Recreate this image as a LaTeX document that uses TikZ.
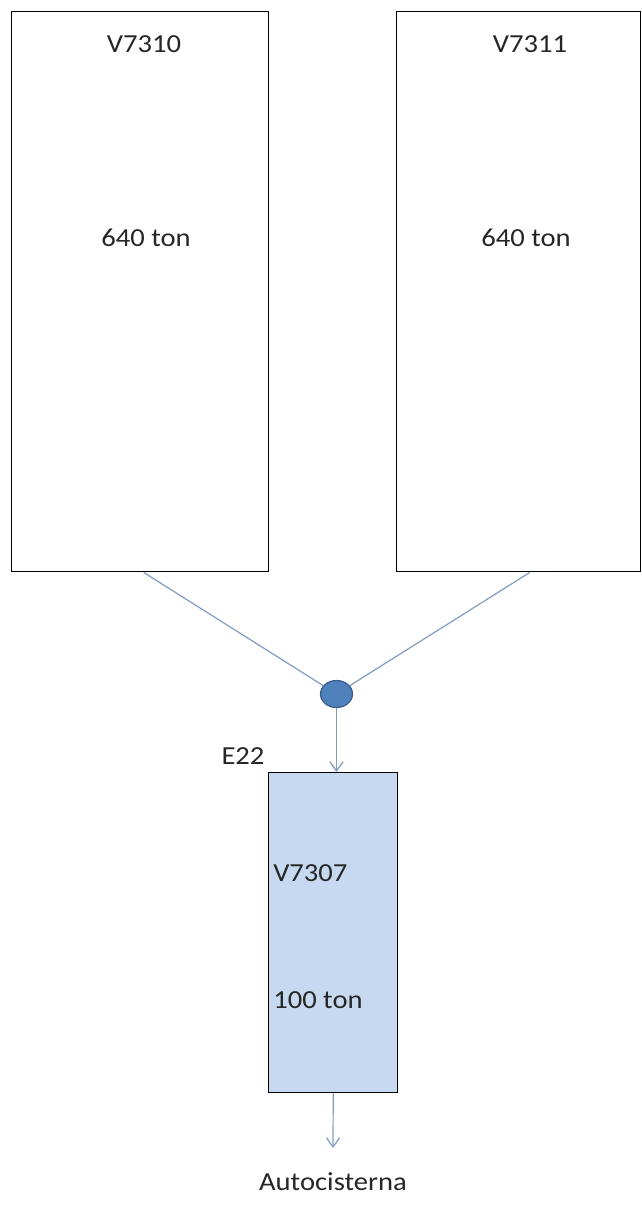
\documentclass[tikz,border=0pt]{standalone}
\usepackage{fontspec}
\setmainfont{Carlito}[FakeStretch=1.1]
\usetikzlibrary{arrows.meta,shapes.geometric}
\begin{document}
\begin{tikzpicture}[x=0.75pt,y=-0.75pt,
  tank/.style={draw=black,line width=1.1pt,inner sep=0pt,anchor=north west},
  pipe/.style={draw=pipeblue,line width=0.9pt},
  flow/.style={pipe,-{Straight Barb[length=7pt,width=10pt,line width=0.9pt]}},
  lbl/.style={font=\fontsize{19.5}{22}\selectfont,text=black!85,inner sep=0pt}]
\definecolor{pipeblue}{HTML}{7F9CC2}
\definecolor{tankfill}{HTML}{C6D9F0}
\definecolor{jointfill}{HTML}{4F81BD}
\definecolor{jointline}{HTML}{385D8A}
\useasboundingbox (0,0) rectangle (642,1207);
% storage tanks
\node[tank,minimum width=257*0.75pt,minimum height=560*0.75pt] (t1) at (11,11) {};
\node[tank,minimum width=244*0.75pt,minimum height=560*0.75pt] (t2) at (396,11) {};
\node[lbl] (t1name) at (144,44) {V7310};
\node[lbl] (t1cap) at (146,238) {640 ton};
\node[lbl] (t2name) at (530,44) {V7311};
\node[lbl] (t2cap) at (526,238) {640 ton};
% junction
\node[ellipse,draw=jointline,fill=jointfill,line width=0.9pt,minimum width=32*0.75pt,minimum height=27*0.75pt,inner sep=0pt] (j) at (336.5,694) {};
% day tank
\node[tank,fill=tankfill,minimum width=129*0.75pt,minimum height=320*0.75pt] (v) at (268,772) {};
\node[lbl,anchor=west] (vname) at (273,873) {V7307};
\node[lbl,anchor=west] (vcap) at (273,1000) {100 ton};
\node[lbl] (e22) at (243,756) {E22};
\node[lbl] (auto) at (333,1182) {Autocisterna};
\coordinate (out) at (333,1148);
% piping
\draw[pipe] ([xshift=3.5*0.75pt]t1.south) -- (j);
\draw[pipe] ([xshift=11*0.75pt]t2.south) -- (j);
\draw[flow] (j.south) -- (j.south |- v.north);
\draw[flow] (v.south) -- (out);
\end{tikzpicture}
\end{document}
